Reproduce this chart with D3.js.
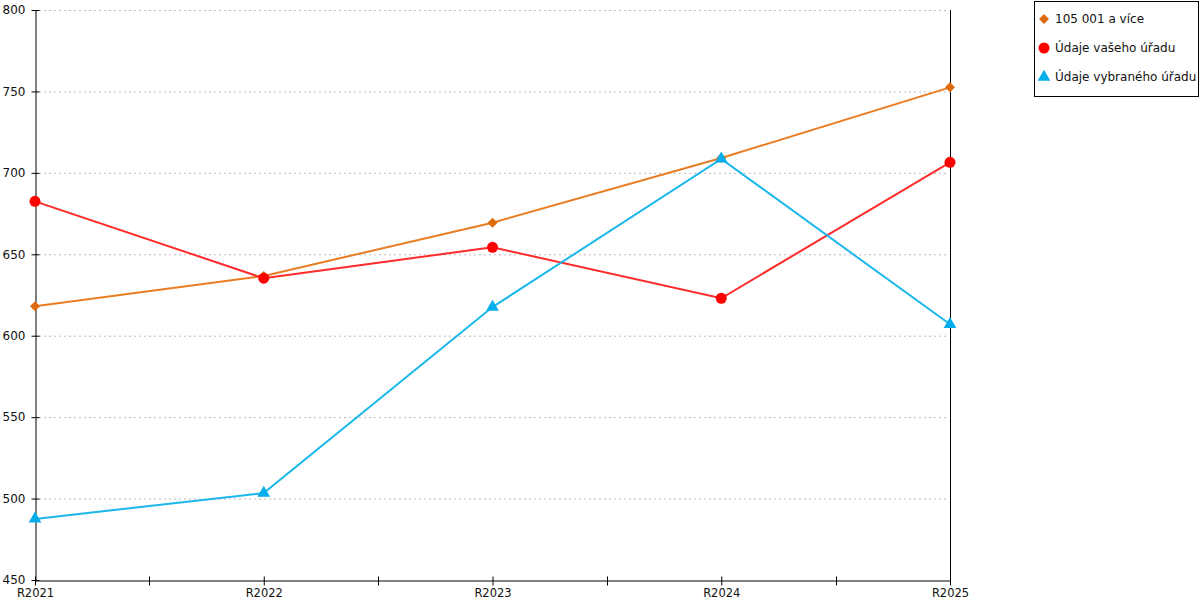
<!DOCTYPE html>
<html>
<head>
<meta charset="utf-8">
<title>Graf</title>
<style>
  body { margin: 0; background: white; }
  svg { display: block; font-family: "DejaVu Sans", Verdana, sans-serif; }
  .grid line { stroke: #bbb; stroke-dasharray: 2,3; }
  .legend text { font-size: 12px; fill: #111; }
</style>
</head>
<body>
<script src="https://cdn.jsdelivr.net/npm/d3@7/dist/d3.min.js"></script>
<script>
// categories and values
var categories = ["R2021", "R2022", "R2023", "R2024", "R2025"];
var seriesNames = ["105 001 a více", "Údaje vašeho úřadu", "Údaje vybraného úřadu"];
var valuesSize = [618.1, 636.7, 669.4, 709.1, 752.5];
var valuesOwn = [682.5, 635.3, 654.3, 623.0, 706.5];
var valuesSelected = [487.5, 503.4, 617.6, 708.6, 607.0];
var yTicks = [450, 500, 550, 600, 650, 700, 750, 800];

var width = 1200, height = 600;
var plotLeft = 35, plotRight = 950, plotTop = 10, plotBottom = 580;

var svg = d3.select("body").append("svg")
    .attr("width", width)
    .attr("height", height);

var x = d3.scalePoint().domain(categories).range([plotLeft, plotRight]);
var y = d3.scaleLinear().domain([450, 800]).range([plotBottom, plotTop]);

// grid
svg.append("g").attr("class", "grid")
  .selectAll("line").data(yTicks.filter(function(d) { return d > 450; }))
  .enter().append("line")
    .attr("x1", plotLeft + 4).attr("x2", plotRight - 4)
    .attr("y1", function(d) { return y(d) + 0.5; })
    .attr("y2", function(d) { return y(d) + 0.5; });

// y axis
var yAxis = svg.append("g")
    .attr("transform", "translate(" + (plotLeft + 0.5) + ",0)")
    .call(d3.axisLeft(y).tickValues(yTicks).tickSize(4).tickSizeOuter(0).tickPadding(6));
yAxis.attr("font-family", null).attr("font-size", null);
yAxis.selectAll(".tick line").attr("x1", 4);
yAxis.select(".domain").attr("stroke", "#000");
yAxis.selectAll("text").attr("font-size", 12).attr("fill", "#111");

// right border line
svg.append("line")
    .attr("x1", plotRight + 0.5).attr("x2", plotRight + 0.5)
    .attr("y1", plotTop).attr("y2", plotBottom)
    .attr("stroke", "#000");

// x axis with minor ticks between categories
var step = x.step();
var minor = categories.slice(1).map(function(c) { return x(c) - step / 2; });
var xAxis = svg.append("g")
    .attr("transform", "translate(0," + (plotBottom + 0.5) + ")")
    .call(d3.axisBottom(x).tickSize(5).tickSizeOuter(0).tickPadding(3));
xAxis.attr("font-family", null).attr("font-size", null);
xAxis.select(".domain").attr("stroke", "#000");
xAxis.selectAll(".tick line").attr("y1", -4);
xAxis.selectAll("text").attr("font-size", 11.5).attr("fill", "#111");
xAxis.selectAll(".minor").data(minor).enter().append("line")
    .attr("x1", function(d) { return Math.round(d) + 0.5; })
    .attr("x2", function(d) { return Math.round(d) + 0.5; })
    .attr("y1", -4).attr("y2", 5)
    .attr("stroke", "#000");

var series = [
  { name: seriesNames[0], values: valuesSize, color: "#ea7d22", mark: "#dd6a0c", symbol: d3.symbolSquare, size: 50, rot: 45 },
  { name: seriesNames[1], values: valuesOwn, color: "#ff2a2a", mark: "#ff0000", symbol: d3.symbolCircle, size: 95, rot: 0 },
  { name: seriesNames[2], values: valuesSelected, color: "#1ab8ea", mark: "#05aeea", symbol: d3.symbolTriangle, size: 70, rot: 0 }
];

var line = d3.line()
    .x(function(d, i) { return x(categories[i]); })
    .y(function(d) { return y(d); });

series.forEach(function(s) {
  svg.append("path")
      .attr("d", line(s.values))
      .attr("fill", "none")
      .attr("stroke", s.color)
      .attr("stroke-width", 2);
});
series.forEach(function(s) {
  svg.append("g").selectAll("path").data(s.values).enter().append("path")
      .attr("transform", function(d, i) {
        return "translate(" + x(categories[i]) + "," + y(d) + ") rotate(" + s.rot + ")";
      })
      .attr("d", d3.symbol().type(s.symbol).size(s.size))
      .attr("fill", s.mark);
});

// legend
var legend = svg.append("g").attr("class", "legend");
legend.append("rect")
    .attr("x", 1034.5).attr("y", 1.5)
    .attr("width", 164).attr("height", 95)
    .attr("fill", "white").attr("stroke", "#000");
series.forEach(function(s, i) {
  var ly = 19 + i * 29;
  legend.append("path")
      .attr("transform", "translate(1044," + ly + ") rotate(" + s.rot + ")")
      .attr("d", d3.symbol().type(s.symbol).size(s.size))
      .attr("fill", s.mark);
  legend.append("text")
      .attr("x", 1055).attr("y", ly + 4)
      .text(s.name);
});
</script>
</body>
</html>
